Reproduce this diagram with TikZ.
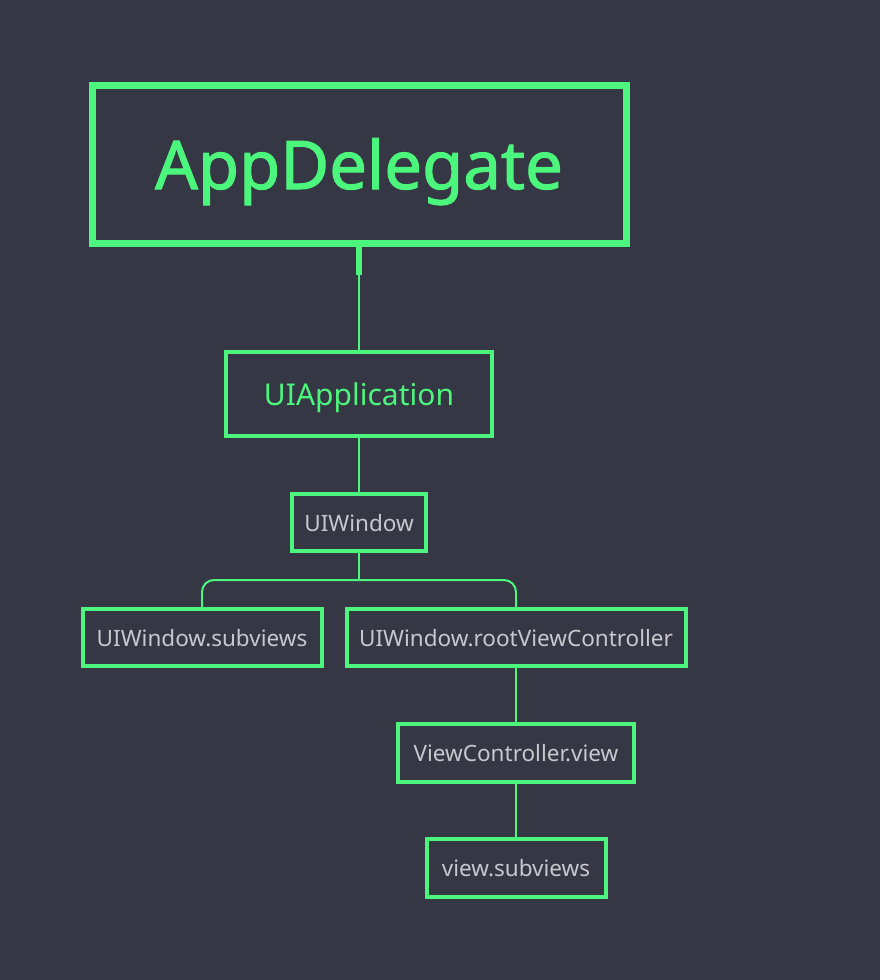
\documentclass[tikz,border=0pt]{standalone}
\usepackage{fontspec}
\setmainfont{Noto Sans}
\newfontfamily\heavyfont[FakeBold=1.6]{Noto Sans}
\definecolor{bg}{HTML}{353744}
\definecolor{grn}{HTML}{4CF57C}
\definecolor{gtx}{HTML}{C8C8CE}
\begin{document}
\begin{tikzpicture}[x=1pt,y=-1pt,
  box/.style={draw=grn, rectangle, inner sep=0pt, anchor=center},
  bigbox/.style={box, line width=7pt, text=grn, font=\heavyfont\fontsize{67}{80}\selectfont, text height=50pt, text depth=0pt},
  midbox/.style={box, line width=4pt, text=grn, font=\fontsize{30}{36}\selectfont, text height=22pt, text depth=0pt},
  smallbox/.style={box, line width=4pt, text=gtx, font=\fontsize{22.5}{27}\selectfont, text height=17pt, text depth=0pt},
  link/.style={draw=grn, line width=2pt},
]
\fill[bg] (0,0) rectangle (880,980);
\useasboundingbox (0,0) rectangle (880,980);

\node[bigbox, minimum width=534pt, minimum height=158pt] (app) at (359,164) {AppDelegate};
\node[midbox, minimum width=266pt, minimum height=84pt] (uiapp) at (359,394) {UIApplication};
\node[smallbox, minimum width=134pt, minimum height=57pt] (win) at (359,522.5) {UIWindow};
\node[smallbox, minimum width=239pt, minimum height=57pt] (sub) at (202,637.5) {UIWindow.subviews};
\node[smallbox, minimum width=339pt, minimum height=57pt] (root) at (516,637.5) {UIWindow.rootViewController};
\node[smallbox, minimum width=236pt, minimum height=58pt] (vcv) at (516,753) {ViewController.view};
\node[smallbox, minimum width=179pt, minimum height=58pt] (vsub) at (516,868) {view.subviews};

\coordinate (stub) at ([yshift=-28pt]app.south);
\coordinate (bar) at ([yshift=-27pt]win.south);

\draw[link] (app.south) -- (uiapp.north);
\draw[draw=grn, line width=6pt] (app.south) -- (stub);
\draw[link] (uiapp.south) -- (win.north);
\draw[link] (win.south) -- (bar);
\draw[link, rounded corners=12pt] (sub.north) |- (bar) -| (root.north);
\draw[link] (root.south) -- (vcv.north);
\draw[link] (vcv.south) -- (vsub.north);
\end{tikzpicture}
\end{document}
